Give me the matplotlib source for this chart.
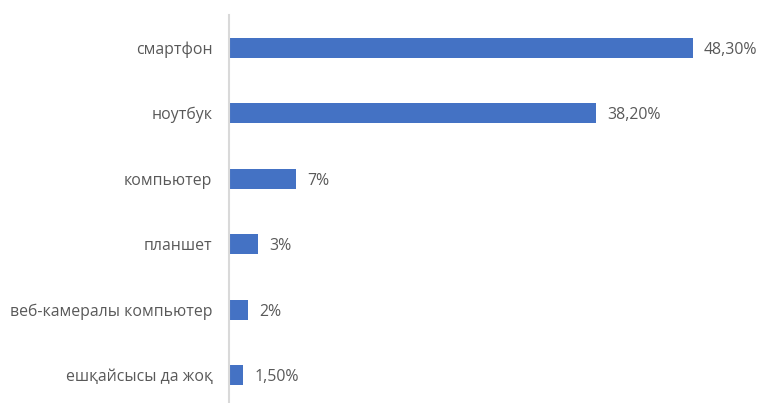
import matplotlib
matplotlib.use("Agg")
import matplotlib.pyplot as plt

categories = ["смартфон", "ноутбук", "компьютер", "планшет",
              "веб-камералы компьютер", "ешқайсысы да жоқ"]
values = [48.3, 38.2, 7, 3, 2, 1.5]
value_labels = ["48,30%", "38,20%", "7%", "3%", "2%", "1,50%"]

plt.rcParams['font.family'] = ['Open Sans', 'DejaVu Sans']

fig = plt.figure(figsize=(7.62, 4.03), dpi=100)
ax = fig.add_axes([229 / 762, -5 / 403, 1 - 229 / 762, 393 / 403])

ypos = list(range(len(categories)))
ax.barh(ypos, values, height=0.31, color="#4472C4")
ax.set_ylim(len(categories) - 0.5, -0.5)
ax.set_xlim(0, 55.5)

for y, v, lab in zip(ypos, values, value_labels):
    ax.annotate(lab, (v, y), xytext=(8, -1.5), textcoords="offset points",
                va="center", ha="left", fontsize=11.4, color="#595959")

ax.set_yticks(ypos)
ax.set_yticklabels(categories, fontsize=11.4, color="#595959")
ax.tick_params(axis="y", length=0, pad=12)
ax.set_xticks([])
for side in ["top", "right", "bottom"]:
    ax.spines[side].set_visible(False)
ax.spines["left"].set_color("#D9D9D9")
ax.spines["left"].set_linewidth(1.5)

fig.savefig("out.png", dpi=100)
